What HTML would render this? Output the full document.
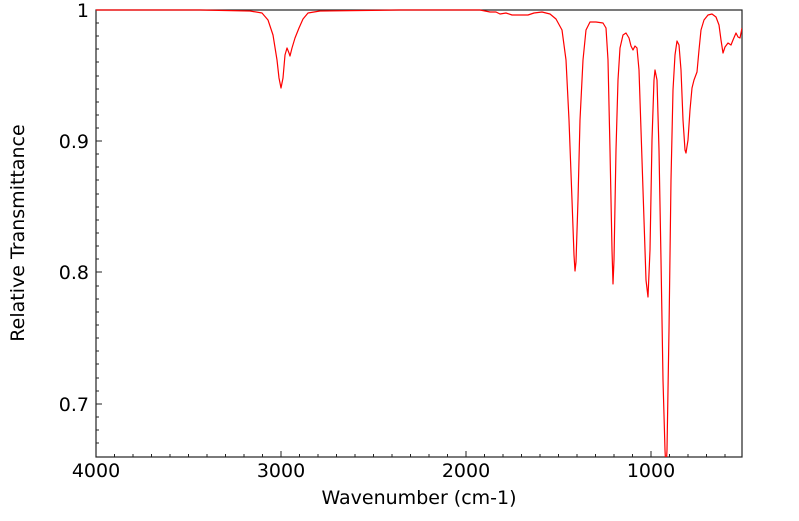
<!DOCTYPE html>
<html><head><style>
body{margin:0;background:#fff;}
text{font-family:"DejaVu Sans","Liberation Sans",sans-serif;font-size:19px;fill:#000;}
</style></head><body>
<svg width="799" height="516" viewBox="0 0 799 516" xmlns="http://www.w3.org/2000/svg">
<defs><clipPath id="c"><rect x="96" y="9" width="646" height="448"/></clipPath></defs>
<rect x="96" y="10" width="646" height="447" fill="none" stroke="#222" stroke-width="1.2"/>
<g stroke="#222" stroke-width="1">
<path d="M281 457v-6M466 457v-6M651 457v-6"/>
<path d="M114.5 457v-3M133 457v-3M151.5 457v-3M170 457v-3M188.5 457v-3M207 457v-3M225.5 457v-3M244 457v-3M262.5 457v-3M299.5 457v-3M318 457v-3M336.5 457v-3M355 457v-3M373.5 457v-3M392 457v-3M410.5 457v-3M429 457v-3M447.5 457v-3M484.5 457v-3M503 457v-3M521.5 457v-3M540 457v-3M558.5 457v-3M577 457v-3M595.5 457v-3M614 457v-3M632.5 457v-3M669.5 457v-3M688 457v-3M706.5 457v-3M725 457v-3"/>
<path d="M96 141h6M96 272h6M96 404h6"/>
<path d="M96 23h3M96 36h3M96 49h3M96 62h3M96 76h3M96 89h3M96 102h3M96 115h3M96 128h3M96 154h3M96 167h3M96 180h3M96 194h3M96 207h3M96 220h3M96 233h3M96 246h3M96 259h3M96 286h3M96 299h3M96 312h3M96 325h3M96 338h3M96 351h3M96 364h3M96 378h3M96 391h3M96 417h3M96 430h3M96 443h3"/>
</g>
<g clip-path="url(#c)">
<path fill="none" stroke="#f00" stroke-width="1.2" stroke-linejoin="round" d="
M96 10 L200 10 L250 11 L262 13 L268 20 L273 35 L277 60 L279 78 L281 88 L283 78 L285 55 L287 48 L289 53 L290 56 L292 48 L295 38 L299 28 L303 19 L308 13 L320 11 L400 10 L480 10 L490 12 L496 12 L500 14 L506 13 L512 15 L528 15 L534 13 L542 12 L550 14 L556 19 L562 30 L566 60 L569 120 L572 200 L574 255 L575 271 L576 262 L578 200 L580 120 L583 60 L586 30 L590 22 L596 22 L603 23 L606 28 L608 60 L610 150 L612 250 L613 284 L614 260 L616 150 L618 80 L620 48 L623 35 L626 33 L629 38 L631 46 L633 50 L635 46 L637 48 L639 70 L641 130 L644 220 L646 280 L648 297 L650 250 L652 140 L654 80 L655 70 L657 80 L659 150 L661 260 L663 380 L665 450 L666 470 L667 450 L669 330 L671 180 L673 90 L675 55 L677 41 L679 45 L681 70 L683 120 L685 150 L686 153 L688 140 L690 110 L692 88 L694 80 L697 72 L699 50 L701 30 L704 20 L708 15 L712 14 L716 17 L719 25 L721 40 L723 53 L725 47 L728 43 L731 45 L733 40 L736 33 L738 37 L740 38 L742 28"/>
</g>
<text x="96" y="477" text-anchor="middle">4000</text>
<text x="281" y="477" text-anchor="middle">3000</text>
<text x="466" y="477" text-anchor="middle">2000</text>
<text x="651" y="477" text-anchor="middle">1000</text>
<text x="89" y="17" text-anchor="end">1</text>
<text x="89" y="148" text-anchor="end">0.9</text>
<text x="89" y="279" text-anchor="end">0.8</text>
<text x="89" y="411" text-anchor="end">0.7</text>
<text x="419" y="504" text-anchor="middle">Wavenumber (cm-1)</text>
<text transform="translate(24 233) rotate(-90)" text-anchor="middle">Relative Transmittance</text>
</svg>
</body></html>
